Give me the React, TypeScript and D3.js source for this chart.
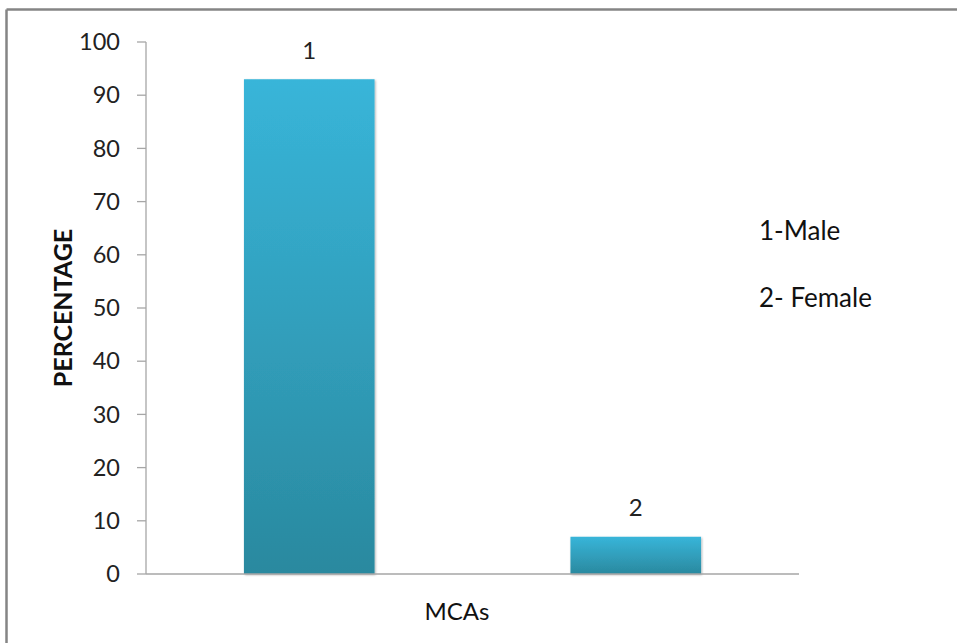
import React from "react";
import * as d3 from "d3";

const categories = ["1", "2"];
const values = [93, 7];
const yTicks = [0, 10, 20, 30, 40, 50, 60, 70, 80, 90, 100];
const legendLines = ["1-Male", "2- Female"];
const xTitle = "MCAs";
const yTitle = "PERCENTAGE";

const W = 957;
const H = 643;
const FONT = "Lato, 'Open Sans', 'DejaVu Sans', sans-serif";

export default function App() {
  const x = d3.scaleBand<string>().domain(categories).range([146, 799]).paddingInner(0.6).paddingOuter(0.3);
  const y = d3.scaleLinear().domain([0, 100]).range([574, 42]);
  const axisColor = "#a6a6a6";
  return (
    <svg width={W} height={H} style={{ position: "absolute", left: 0, top: 0, background: "#fff" }}>
      <defs>
        <linearGradient id="barGrad" x1="0" y1="0" x2="0" y2="1">
          <stop offset="0" stopColor="#38b5d9" />
          <stop offset="1" stopColor="#2a899f" />
        </linearGradient>
        <filter id="shadow" x="-10%" y="-10%" width="120%" height="120%">
          <feDropShadow dx="1" dy="1" stdDeviation="1.2" floodColor="#000" floodOpacity="0.3" />
        </filter>
      </defs>
      {/* frame */}
      <line x1={6.5} y1={9.5} x2={W} y2={9.5} stroke="#858585" strokeWidth={2.5} />
      <line x1={6.5} y1={9.5} x2={6.5} y2={H} stroke="#858585" strokeWidth={2.5} />
      {/* y axis */}
      <line x1={146} y1={y(100)} x2={146} y2={y(0)} stroke={axisColor} strokeWidth={1.3} />
      {yTicks.map((t) => (
        <g key={t}>
          <line x1={137} x2={146} y1={y(t)} y2={y(t)} stroke={axisColor} strokeWidth={1.3} />
          <text x={120} y={y(t)} dy="0.35em" textAnchor="end" fontFamily={FONT} fontSize={23.5} fill="#222">
            {t}
          </text>
        </g>
      ))}
      {/* bars */}
      {categories.map((c, i) => (
        <g key={c}>
          <rect
            x={x(c)}
            y={y(values[i])}
            width={x.bandwidth()}
            height={y(0) - y(values[i])}
            fill="url(#barGrad)"
            filter="url(#shadow)"
          />
          <text
            x={(x(c) as number) + x.bandwidth() / 2}
            y={y(values[i]) - 29}
            dy="0.35em"
            textAnchor="middle"
            fontFamily={FONT}
            fontSize={24}
            fill="#222"
          >
            {c}
          </text>
        </g>
      ))}
      {/* x axis */}
      <line x1={146} y1={574} x2={799} y2={574} stroke={axisColor} strokeWidth={1.5} />
      <text x={457} y={612} dy="0.35em" textAnchor="middle" fontFamily={FONT} fontSize={24} fill="#111">
        {xTitle}
      </text>
      <text
        transform={`translate(63,308) rotate(-90)`}
        dy="0.35em"
        textAnchor="middle"
        fontFamily={FONT}
        fontSize={25}
        fontWeight="bold"
        fill="#111"
      >
        {yTitle}
      </text>
      {legendLines.map((l, i) => (
        <text key={l} x={759} y={240 + i * 67} fontFamily={FONT} fontSize={26} fill="#111">
          {l}
        </text>
      ))}
    </svg>
  );
}
